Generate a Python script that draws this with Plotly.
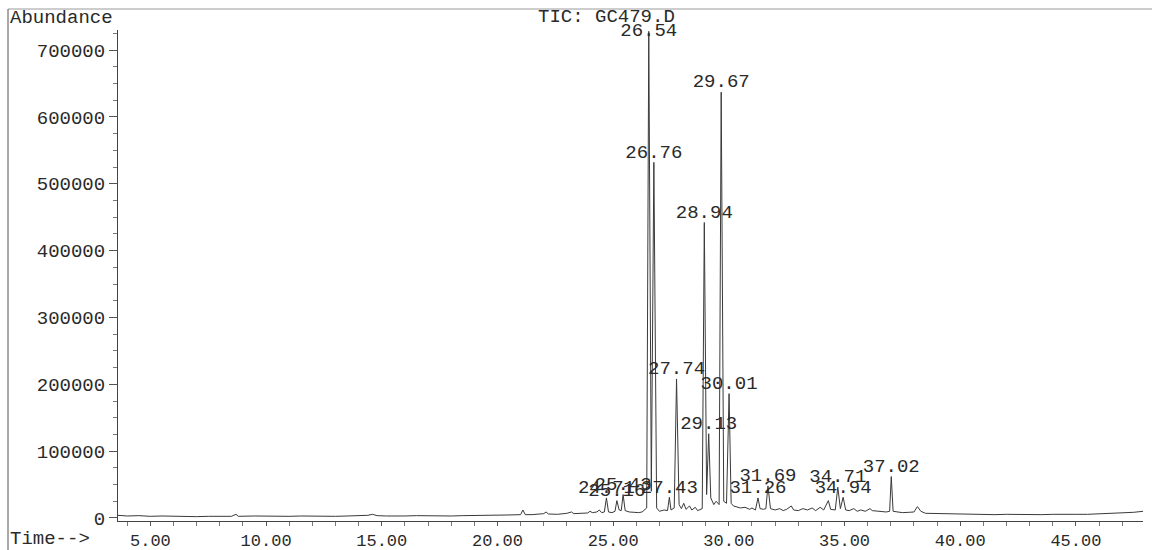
import plotly.graph_objects as go

# ---- chromatogram trace (time in minutes, abundance) ----
time = [3.6, 4.0, 4.5, 5.0, 5.5, 6.0, 6.5, 7.0, 7.5, 8.0, 8.5, 8.7, 8.8, 9.5, 10.0, 10.5, 11.0,
        11.5, 12.0, 12.5, 13.0, 13.5, 14.0, 14.4, 14.6, 14.8, 15.2, 15.6, 16.0, 16.5, 17.0, 17.5,
        18.0, 18.5, 19.0, 19.5, 20.0, 20.5, 21.0, 21.1, 21.2, 21.5, 22.0, 22.1, 22.2, 22.6, 23.0,
        23.2, 23.3, 23.6, 23.9, 24.0, 24.1, 24.3, 24.4, 24.5, 24.62, 24.71, 24.8, 24.95, 25.08,
        25.16, 25.26, 25.35, 25.43, 25.52, 25.7, 25.9, 26.1, 26.25, 26.45, 26.54, 26.65, 26.76,
        26.88, 27.0, 27.2, 27.35, 27.43, 27.5, 27.64, 27.74, 27.85, 27.95, 28.05, 28.15, 28.3,
        28.4, 28.55, 28.65, 28.85, 28.94, 29.04, 29.13, 29.22, 29.35, 29.45, 29.58, 29.67, 29.78,
        29.9, 30.01, 30.1, 30.2, 30.35, 30.5, 30.7, 30.9, 31.0, 31.15, 31.26, 31.35, 31.5, 31.6,
        31.69, 31.8, 32.0, 32.2, 32.35, 32.5, 32.7, 32.8, 33.0, 33.2, 33.4, 33.6, 33.75, 33.95,
        34.1, 34.3, 34.4, 34.6, 34.71, 34.82, 34.94, 35.05, 35.2, 35.4, 35.55, 35.7, 35.9, 36.1,
        36.2, 36.4, 36.6, 36.8, 36.95, 37.02, 37.1, 37.3, 37.5, 37.8, 38.0, 38.15, 38.3, 38.5,
        39.0, 39.5, 40.0, 40.5, 41.0, 41.5, 42.0, 42.5, 43.0, 43.5, 44.0, 44.5, 45.0, 45.5, 46.0,
        46.5, 47.0, 47.5, 47.9]
abundance = [4000, 3000, 3500, 2500, 3000, 2500, 3000, 2000, 2500, 3000, 2500, 5500, 2500, 3000,
             2500, 3000, 2500, 3000, 2500, 3000, 2500, 3000, 3000, 4000, 5500, 3500, 3000, 3500,
             3000, 3500, 3000, 3500, 3000, 3500, 3500, 4000, 3500, 4500, 5000, 12000, 5000, 5000,
             6500, 9000, 6000, 5500, 7000, 9000, 6500, 7000, 7500, 10000, 8000, 9000, 12000, 8000,
             9000, 30000, 9000, 8000, 10000, 26000, 12000, 11000, 35000, 11000, 9000, 8500, 8000,
             9000, 15000, 728000, 40000, 532000, 15000, 10000, 12000, 11000, 31000, 12000, 15000,
             208000, 20000, 14000, 22000, 13000, 18000, 12000, 16000, 11000, 14000, 442000, 35000,
             126000, 30000, 20000, 25000, 20000, 637000, 25000, 22000, 186000, 22000, 18000, 17000,
             15000, 16000, 13000, 15000, 12000, 30000, 14000, 13000, 14000, 48000, 14000, 12000,
             14000, 11000, 13000, 18000, 12000, 11000, 14000, 12000, 15000, 11000, 16000, 12000,
             26000, 13000, 12000, 46000, 14000, 31000, 12000, 11000, 14000, 10000, 12000, 10000,
             14000, 11000, 10000, 9000, 9000, 10000, 62000, 10000, 9000, 8000, 8500, 9000, 17000,
             10000, 7000, 6500, 6000, 5500, 6000, 5500, 5000, 5500, 5000, 5500, 5000, 5500, 5000,
             5500, 5500, 6000, 6500, 7000, 8500, 10000]

# ---- labelled peaks ----
peak_rt = [24.71, 25.16, 25.43, 26.54, 26.76, 27.43, 27.74, 28.94, 29.13, 29.67, 30.01,
           31.26, 31.69, 34.71, 34.94, 37.02]
peak_height = [30000, 26000, 35000, 728000, 532000, 31000, 208000, 442000, 126000, 637000,
               186000, 30000, 48000, 46000, 31000, 62000]
peak_label = ["24.71", "25.16", "25.43", "26.54", "26.76", "27.43", "27.74", "28.94", "29.13",
              "29.67", "30.01", "31.26", "31.69", "34.71", "34.94", "37.02"]

x_ticks = [5, 10, 15, 20, 25, 30, 35, 40, 45]
x_tick_text = ["5.00", "10.00", "15.00", "20.00", "25.00", "30.00", "35.00", "40.00", "45.00"]
y_ticks = [0, 100000, 200000, 300000, 400000, 500000, 600000, 700000]
y_tick_text = ["0", "100000", "200000", "300000", "400000", "500000", "600000", "700000"]

title_text = "TIC: GC479.D"

FONT = "Liberation Mono, Courier New, monospace"
INK = "#2a2a2a"

fig = go.Figure()
fig.add_trace(go.Scatter(x=time, y=abundance, mode="lines",
                         line=dict(color="#3a3a3a", width=1), hoverinfo="skip",
                         showlegend=False))

positions = ["top center"] * len(peak_label)
positions[peak_label.index("26.54")] = "middle center"
fig.add_trace(go.Scatter(x=peak_rt, y=peak_height, mode="text", text=peak_label,
                         textposition=positions, cliponaxis=False,
                         textfont=dict(family=FONT, size=19, color=INK),
                         showlegend=False, hoverinfo="skip"))

L, R, T, B = 118, 9, 30, 29
W, H = 1152, 550
pw, ph = W - L - R, H - T - B


def px_to_paper_x(px):
    return (px - L) / pw


def py_to_paper_y(py):
    return (H - B - py) / ph


fig.update_layout(
    template="none",
    width=W, height=H,
    margin=dict(l=L, r=R, t=T, b=B, autoexpand=False),
    paper_bgcolor="white", plot_bgcolor="white",
    font=dict(family=FONT, size=19, color=INK),
    xaxis=dict(range=[3.6, 47.9], showgrid=False, zeroline=False, automargin=False,
               showline=True, linecolor="#444", linewidth=1,
               tickvals=x_ticks, ticktext=x_tick_text,
               ticks="outside", ticklen=4, tickcolor="#555", tickwidth=1,
               tickfont=dict(family=FONT, size=17, color=INK),
               minor=dict(dtick=1, tick0=0, ticks="outside", ticklen=4,
                          tickcolor="#777", showgrid=False)),
    yaxis=dict(range=[-4500, 730000], showgrid=False, zeroline=False, automargin=False,
               showline=True, linecolor="#444", linewidth=1,
               tickvals=y_ticks, ticktext=y_tick_text,
               ticks="outside", ticklen=8, tickcolor="#555", tickwidth=1,
               tickfont=dict(family=FONT, size=19, color=INK),
               minor=dict(dtick=25000, tick0=0, ticks="outside", ticklen=4,
                          tickcolor="#777", showgrid=False)),
)

fig.add_annotation(text="Abundance", xref="paper", yref="paper",
                   x=px_to_paper_x(8), y=py_to_paper_y(18), xanchor="left", yanchor="middle",
                   showarrow=False, font=dict(family=FONT, size=19, color=INK))
fig.add_annotation(text="Time-->", xref="paper", yref="paper",
                   x=px_to_paper_x(8), y=py_to_paper_y(539), xanchor="left", yanchor="middle",
                   showarrow=False, font=dict(family=FONT, size=19, color=INK))
fig.add_annotation(text=title_text, xref="paper", yref="paper",
                   x=px_to_paper_x(536), y=py_to_paper_y(17), xanchor="left", yanchor="middle",
                   showarrow=False, font=dict(family=FONT, size=19, color=INK))

# page frame (top and left border of the printout)
fig.add_shape(type="line", xref="paper", yref="paper",
              x0=px_to_paper_x(8), x1=px_to_paper_x(1152), y0=py_to_paper_y(9), y1=py_to_paper_y(9),
              line=dict(color="#9a9a9a", width=1))
fig.add_shape(type="line", xref="paper", yref="paper",
              x0=px_to_paper_x(8), x1=px_to_paper_x(8), y0=py_to_paper_y(9), y1=py_to_paper_y(550),
              line=dict(color="#555", width=1))

fig.write_html("out.html", config={"displayModeBar": False},
               post_script="document.body.style.margin='0';document.body.style.overflow='hidden';")
